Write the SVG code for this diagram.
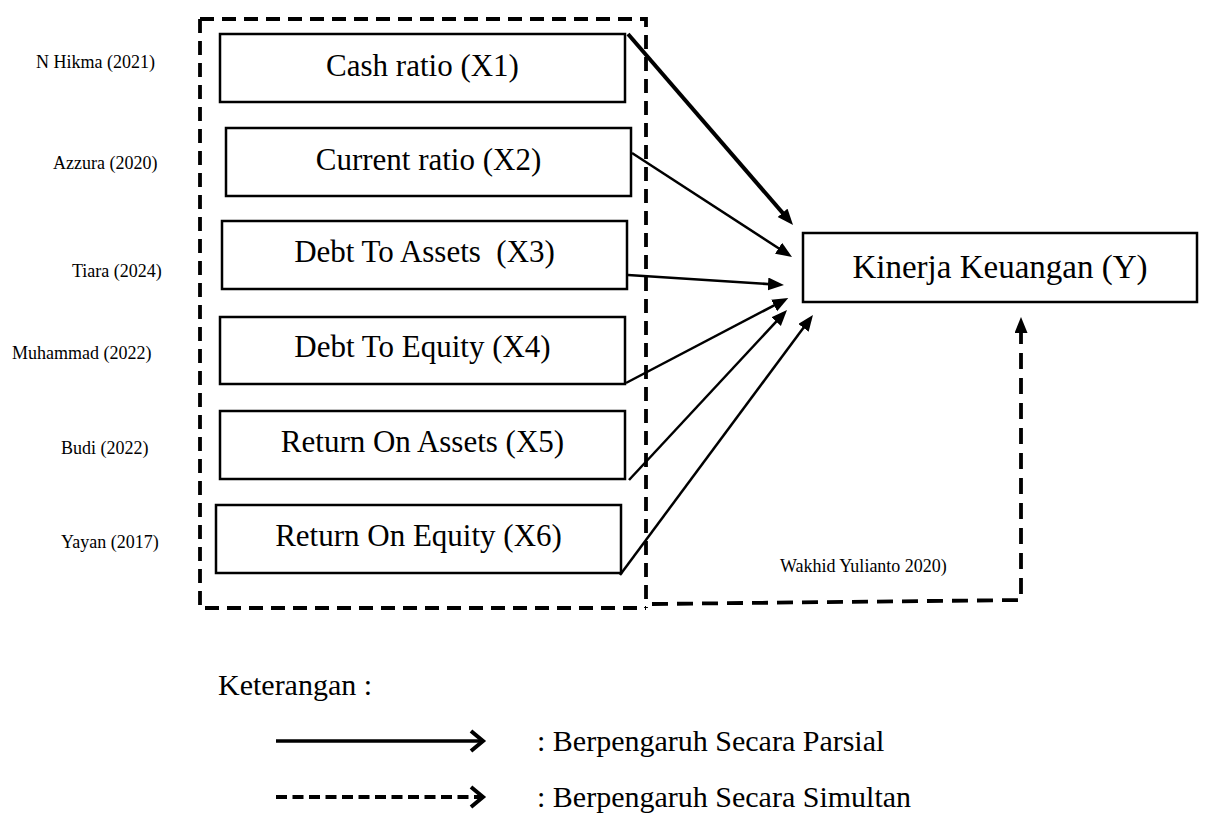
<svg xmlns="http://www.w3.org/2000/svg" width="1210" height="826" viewBox="0 0 1210 826">
<style>
text{font-family:"Liberation Serif","Times New Roman",serif;fill:#000}
.box{fill:#fff;stroke:#000;stroke-width:2.5}
.bt{font-size:31px;text-anchor:middle}
.ref{font-size:18px}
.leg{font-size:30px}
.dash{fill:none;stroke:#000;stroke-width:3.8;stroke-dasharray:14 8}
.dash2{fill:none;stroke:#000;stroke-width:3.8;stroke-dasharray:16 9}
.arr{fill:none;stroke:#000;stroke-width:2.5;marker-end:url(#ah)}
.arrb{fill:none;stroke:#000;stroke-width:4;marker-end:url(#ah)}
</style>
<defs>
<marker id="ah" markerUnits="userSpaceOnUse" markerWidth="17" markerHeight="14" refX="6" refY="6.5" orient="auto">
<path d="M0,0 L16,6.5 L0,13 z" fill="#000"/>
</marker>
</defs>
<rect width="1210" height="826" fill="#fff"/>
<g id="frame">
<path class="dash" d="M200,19 H646 V608 M200,19 V608 H646"/>
</g>
<g id="refs">
<text class="ref" x="36" y="68">N Hikma (2021)</text>
<text class="ref" x="53" y="169">Azzura (2020)</text>
<text class="ref" x="72" y="277">Tiara (2024)</text>
<text class="ref" x="12" y="359">Muhammad (2022)</text>
<text class="ref" x="61" y="454">Budi (2022)</text>
<text class="ref" x="61" y="548">Yayan (2017)</text>
</g>
<g id="x1"><rect class="box" x="220" y="34" width="405" height="68"/><text class="bt" x="422.5" y="76">Cash ratio (X1)</text></g>
<g id="x2"><rect class="box" x="226" y="128" width="405" height="68"/><text class="bt" x="428.5" y="170">Current ratio (X2)</text></g>
<g id="x3"><rect class="box" x="222" y="221" width="405" height="68"/><text class="bt" x="424.5" y="262" xml:space="preserve">Debt To Assets  (X3)</text></g>
<g id="x4"><rect class="box" x="220" y="317" width="405" height="67"/><text class="bt" x="422.5" y="357">Debt To Equity (X4)</text></g>
<g id="x5"><rect class="box" x="220" y="411" width="405" height="68"/><text class="bt" x="422.5" y="452">Return On Assets (X5)</text></g>
<g id="x6"><rect class="box" x="216" y="505" width="405" height="68"/><text class="bt" x="418.5" y="546">Return On Equity (X6)</text></g>
<g id="y"><rect class="box" x="803" y="233" width="394" height="69"/><text class="bt" x="1000" y="278" style="font-size:33px">Kinerja Keuangan (Y)</text></g>
<g id="connectors">
<line class="arrb" x1="628" y1="34" x2="786.5" y2="217.4"/>
<line class="arr" x1="632" y1="153" x2="783.6" y2="251.5"/>
<line class="arr" x1="628" y1="275" x2="774" y2="284.4"/>
<line class="arr" x1="626" y1="383" x2="779.4" y2="302.6"/>
<line class="arr" x1="629" y1="480" x2="780.2" y2="317.3"/>
<line class="arr" x1="620" y1="575" x2="807" y2="323"/>
<path class="dash2" d="M652,604 L1021,600 V327" marker-end="url(#ah)"/>
</g>
<text class="ref" x="780" y="572">Wakhid Yulianto 2020)</text>
<g id="legend">
<text class="leg" x="218" y="695">Keterangan :</text>
<line x1="276" y1="741" x2="482" y2="741" stroke="#000" stroke-width="3.5"/>
<polyline points="471,731 483,741 471,751" fill="none" stroke="#000" stroke-width="4"/>
<text class="leg" x="537" y="751">: Berpengaruh Secara Parsial</text>
<line x1="276" y1="797" x2="480" y2="797" stroke="#000" stroke-width="3.8" stroke-dasharray="11 5.5"/>
<polyline points="471,787 483,797 471,807" fill="none" stroke="#000" stroke-width="4"/>
<text class="leg" x="537" y="807">: Berpengaruh Secara Simultan</text>
</g>
</svg>
